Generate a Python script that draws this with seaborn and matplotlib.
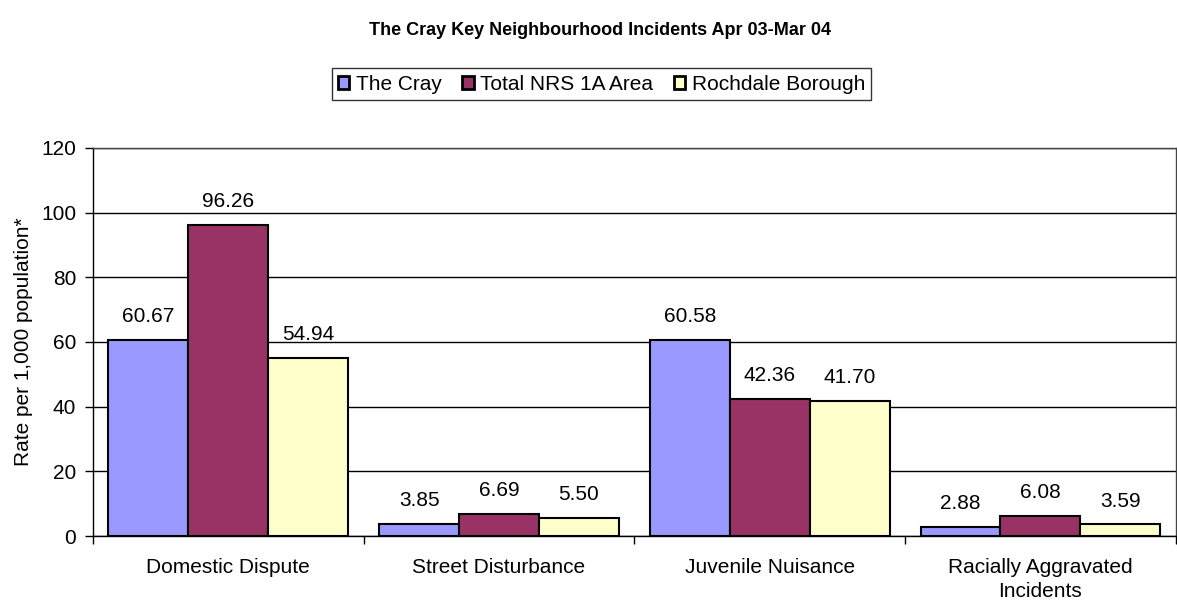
import pandas as pd
import matplotlib
matplotlib.use("Agg")
import matplotlib.pyplot as plt
import seaborn as sns

# === Data ===
categories = ["Domestic Dispute", "Street Disturbance", "Juvenile Nuisance",
              "Racially Aggravated\nIncidents"]
series = ["The Cray", "Total NRS 1A Area", "Rochdale Borough"]
the_cray = [60.67, 3.85, 60.58, 2.88]
total_nrs = [96.26, 6.69, 42.36, 6.08]
rochdale = [54.94, 5.50, 41.70, 3.59]
colors = ["#9999FF", "#993366", "#FFFFCC"]

df = pd.DataFrame({
    "Incident": categories * 3,
    "Area": [s for s in series for _ in categories],
    "Rate": the_cray + total_nrs + rochdale,
})

sns.set_style("white")
plt.rcParams["font.family"] = ["Liberation Sans", "DejaVu Sans"]
plt.rcParams["text.color"] = "black"
plt.rcParams["axes.labelcolor"] = "black"
plt.rcParams["xtick.color"] = "black"
plt.rcParams["ytick.color"] = "black"

fig = plt.figure(figsize=(11.77, 6.06), dpi=100)
ax = fig.add_axes([0.079, 0.1155, 0.920, 0.6403])

sns.barplot(data=df, x="Incident", y="Rate", hue="Area", palette=colors,
            width=0.886, edgecolor="black", linewidth=1.5, saturation=1,
            legend=True, ax=ax)

for cont in ax.containers:
    ax.bar_label(cont, fmt="%.2f", padding=10, fontsize=15, color="black")

ax.set_ylim(0, 120)
ax.set_yticks(range(0, 121, 20))
ax.set_xlim(-0.5, 3.5)
ax.yaxis.grid(True, color="black", linewidth=1)
ax.set_axisbelow(True)

# category labels in the middle, tick marks at the boundaries
ax.set_xticks([-0.5, 0.5, 1.5, 2.5, 3.5])
ax.set_xticklabels([])
ax.set_xticks(range(4), minor=True)
ax.set_xticklabels(categories, minor=True, fontsize=15, linespacing=1.35)
ax.tick_params(axis="x", which="major", length=6, width=1, direction="out", bottom=True)
ax.tick_params(axis="x", which="minor", length=0, pad=16)
ax.tick_params(axis="y", length=6, width=1, direction="out", left=True, labelsize=15, pad=6)

for side in ["top", "right"]:
    ax.spines[side].set_color("#444444")
    ax.spines[side].set_linewidth(1)
for side in ["left", "bottom"]:
    ax.spines[side].set_color("black")
    ax.spines[side].set_linewidth(1)

ax.set_xlabel("")
ax.set_ylabel("Rate per 1,000 population*", fontsize=15, labelpad=6)

handles, labels = ax.get_legend_handles_labels()
ax.legend_.remove()
for h in handles:
    h.set_linewidth(2)
leg = fig.legend(handles, labels, loc="center", bbox_to_anchor=(0.511, 0.861),
                 ncol=3, fontsize=15, frameon=True, fancybox=False,
                 edgecolor="black", handlelength=0.55, handleheight=0.55,
                 handletextpad=0.3, columnspacing=1.0, borderpad=0.3,
                 borderaxespad=0)
leg.get_frame().set_linewidth(1)

fig.text(0.51, 0.95, "The Cray Key Neighbourhood Incidents Apr 03-Mar 04",
         ha="center", va="center", fontsize=13, fontweight="bold")

fig.savefig("out.png", dpi=100)
